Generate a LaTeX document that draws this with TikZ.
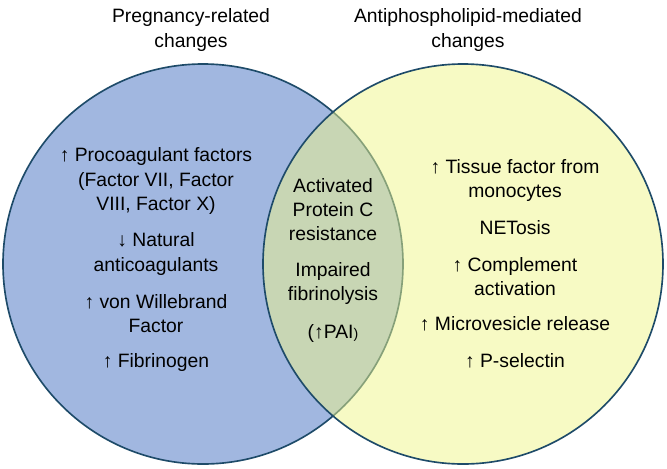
\documentclass[tikz,border=0pt]{standalone}
\usepackage{fontspec}
\setmainfont{Liberation Sans}
\definecolor{pregblue}{RGB}{161,183,224}
\definecolor{aplyellow}{RGB}{239,245,137}
\definecolor{rimblue}{RGB}{30,75,105}
\tikzset{
  listtext/.style={align=center, inner sep=0pt, font=\fontsize{16.5}{20.5}\selectfont},
  titletext/.style={listtext}
}
\begin{document}
\begin{tikzpicture}[x=0.03cm,y=-0.03cm]
\useasboundingbox (0,0) rectangle (667,468);
% the two sets
\draw[line width=1.4pt, draw=rimblue, fill=pregblue] (203,264) circle (200);
\draw[line width=1.4pt, draw=rimblue, fill=aplyellow, fill opacity=0.5] (463,264) circle (200);
% titles
\node[titletext] (pregtitle) at (191,30) {Pregnancy-related\\changes};
\node[titletext] (apltitle) at (468,30) {Antiphospholipid-mediated\\changes};
% left set
\node[listtext] (procoag) at (156,181) {↑ Procoagulant factors\\(Factor VII, Factor\\VIII, Factor X)};
\node[listtext] (natural) at (156,254) {↓ Natural\\anticoagulants};
\node[listtext] (vwf) at (156,313.5) {↑ von Willebrand\\Factor};
\node[listtext] (fibrinogen) at (156,362) {↑ Fibrinogen};
% overlap
\node[listtext] (apcr) at (333,210) {Activated\\Protein C\\resistance};
\node[listtext] (fibrinolysis) at (333,283.5) {Impaired\\fibrinolysis};
\node[listtext] (pai) at (333,333) {(↑PAI{\fontsize{12}{12}\selectfont)}};
% right set
\node[listtext] (tissue) at (515,180.5) {↑ Tissue factor from\\monocytes};
\node[listtext] (netosis) at (515,228) {NETosis};
\node[listtext] (complement) at (515,276.5) {↑ Complement\\activation};
\node[listtext] (microves) at (515,324) {↑ Microvesicle release};
\node[listtext] (pselectin) at (515,361) {↑ P-selectin};
\end{tikzpicture}
\end{document}
